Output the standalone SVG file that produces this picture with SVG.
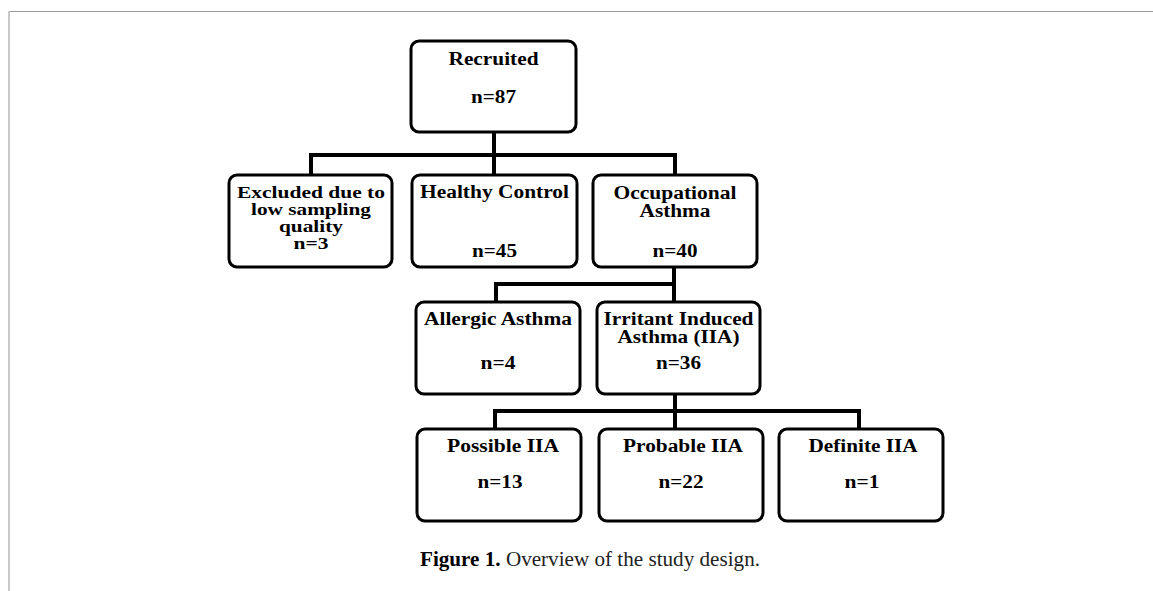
<svg xmlns="http://www.w3.org/2000/svg" width="1153" height="591" viewBox="0 0 1153 591">
<style>
.box{fill:#fff;stroke:#000;stroke-width:3}
.t{font-family:"Liberation Serif","Times New Roman",serif;font-weight:bold;font-size:18px;text-anchor:middle;fill:#000}
.s{font-size:17px}
.con{fill:none;stroke:#000;stroke-width:4;stroke-linejoin:miter}
.cap{font-family:"Liberation Serif","Times New Roman",serif;font-size:20px;fill:#222}
</style>
<rect width="1153" height="591" fill="#fff"/>
<line x1="8" y1="11.5" x2="1153" y2="11.5" stroke="#999" stroke-width="1.2"/>
<line x1="9" y1="11" x2="9" y2="591" stroke="#c8c8c8" stroke-width="2"/>
<g id="connectors">
<path class="con" d="M494 132V155M311 175V155H675V175M494 155V175"/>
<path class="con" d="M674 267V284M496 302V284H674V302"/>
<path class="con" d="M675 394V411M495 429V411H859V429M675 411V429"/>
</g>
<g id="recruited">
<rect class="box" x="411" y="41" width="165" height="91" rx="8"/>
<text class="t" x="493.5" y="65" textLength="90" lengthAdjust="spacingAndGlyphs">Recruited</text>
<text class="t" x="493.5" y="103" textLength="45" lengthAdjust="spacingAndGlyphs">n=87</text>
</g>
<g id="excluded">
<rect class="box" x="229" y="175" width="163" height="92" rx="8"/>
<text class="t s" x="311" y="197.5" textLength="148" lengthAdjust="spacingAndGlyphs">Excluded due to</text>
<text class="t s" x="311" y="214.5" textLength="120" lengthAdjust="spacingAndGlyphs">low sampling</text>
<text class="t s" x="311" y="231.5" textLength="64" lengthAdjust="spacingAndGlyphs">quality</text>
<text class="t s" x="311" y="248.5" textLength="35" lengthAdjust="spacingAndGlyphs">n=3</text>
</g>
<g id="healthy">
<rect class="box" x="412" y="175" width="165" height="92" rx="8"/>
<text class="t" x="494.5" y="198" textLength="149" lengthAdjust="spacingAndGlyphs">Healthy Control</text>
<text class="t" x="494.5" y="257" textLength="45" lengthAdjust="spacingAndGlyphs">n=45</text>
</g>
<g id="occupational">
<rect class="box" x="593" y="175" width="164" height="92" rx="8"/>
<text class="t" x="675" y="199" textLength="123" lengthAdjust="spacingAndGlyphs">Occupational</text>
<text class="t" x="675" y="217" textLength="71" lengthAdjust="spacingAndGlyphs">Asthma</text>
<text class="t" x="675" y="257" textLength="45" lengthAdjust="spacingAndGlyphs">n=40</text>
</g>
<g id="allergic">
<rect class="box" x="416" y="302" width="164" height="92" rx="8"/>
<text class="t" x="498" y="325" textLength="148" lengthAdjust="spacingAndGlyphs">Allergic Asthma</text>
<text class="t" x="498" y="369" textLength="35" lengthAdjust="spacingAndGlyphs">n=4</text>
</g>
<g id="irritant">
<rect class="box" x="597" y="302" width="163" height="92" rx="8"/>
<text class="t" x="678.5" y="325" textLength="150" lengthAdjust="spacingAndGlyphs">Irritant Induced</text>
<text class="t" x="678.5" y="343" textLength="122" lengthAdjust="spacingAndGlyphs">Asthma (IIA)</text>
<text class="t" x="678.5" y="369" textLength="45" lengthAdjust="spacingAndGlyphs">n=36</text>
</g>
<g id="possible">
<rect class="box" x="417" y="429" width="164" height="92" rx="8"/>
<text class="t" x="503" y="452" textLength="112" lengthAdjust="spacingAndGlyphs">Possible IIA</text>
<text class="t" x="500" y="488" textLength="45" lengthAdjust="spacingAndGlyphs">n=13</text>
</g>
<g id="probable">
<rect class="box" x="599" y="429" width="164" height="92" rx="8"/>
<text class="t" x="683" y="452" textLength="120" lengthAdjust="spacingAndGlyphs">Probable IIA</text>
<text class="t" x="681" y="488" textLength="45" lengthAdjust="spacingAndGlyphs">n=22</text>
</g>
<g id="definite">
<rect class="box" x="779" y="429" width="164" height="92" rx="8"/>
<text class="t" x="863" y="452" textLength="109" lengthAdjust="spacingAndGlyphs">Definite IIA</text>
<text class="t" x="862" y="488" textLength="35" lengthAdjust="spacingAndGlyphs">n=1</text>
</g>
<text class="cap" x="420" y="566" textLength="340" lengthAdjust="spacingAndGlyphs"><tspan font-weight="bold" fill="#000">Figure 1.</tspan> Overview of the study design.</text>
</svg>
